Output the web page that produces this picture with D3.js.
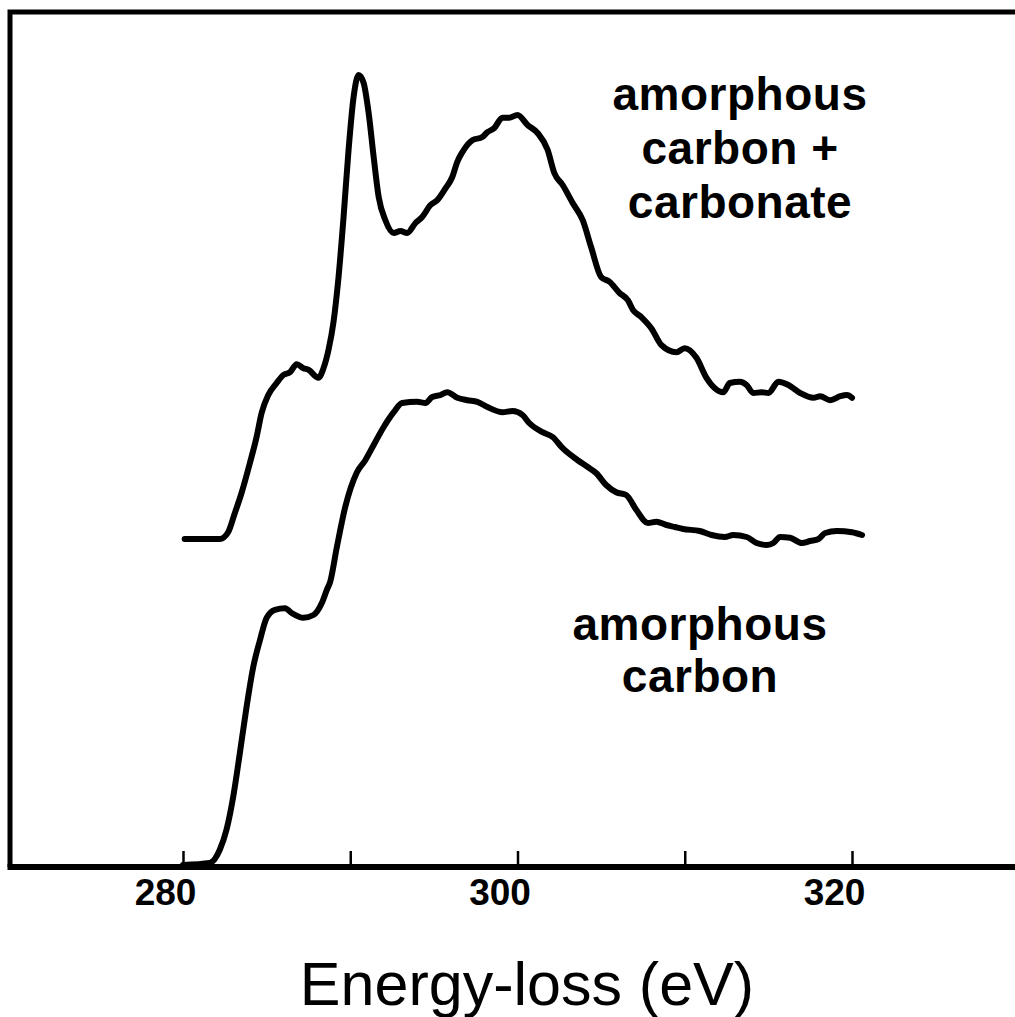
<!DOCTYPE html>
<html>
<head>
<meta charset="utf-8">
<script src="https://cdn.jsdelivr.net/npm/d3@7"></script>
<style>
  html, body { margin: 0; padding: 0; background: #fff; }
  svg { display: block; }
</style>
</head>
<body>
<div id="eels"></div>
<script>
// energy-loss (eV) and intensity (arb. units)
var carbonE = [280.0, 281.6, 282.2, 282.6, 283.0, 283.4, 283.8, 284.2, 284.6, 285.0,
  285.5, 286.1, 286.5, 287.2, 287.8, 288.3, 288.6, 288.8, 289.2, 289.7,
  290.4, 290.9, 291.4, 292.0, 292.6, 293.1, 294.0, 294.5, 294.9, 295.4,
  295.8, 296.4, 297.0, 297.6, 298.2, 299.1, 299.7, 300.3, 300.7, 301.5,
  302.1, 302.7, 303.6, 304.2, 304.7, 305.3, 305.9, 306.5, 307.1, 307.8,
  308.3, 308.9, 309.4, 309.9, 310.9, 311.6, 312.4, 312.9, 313.7, 314.3,
  314.9, 315.3, 315.7, 316.3, 317.0, 317.5, 318.0, 318.4, 319.1, 320.0, 320.6];
var carbonI = [0, 0.25, 1.9, 4.4, 8.5, 14.0, 19.75, 24.75, 28.1, 30.9,
  31.9, 32.1, 31.5, 30.9, 31.25, 32.75, 34.4, 35.4, 39.75, 44.75,
  49.1, 50.6, 52.5, 54.75, 56.6, 57.75, 57.9, 57.75, 58.5, 58.75,
  59.1, 58.4, 58.1, 57.9, 57.25, 56.6, 56.75, 56.25, 55.25, 54.1,
  53.5, 52.1, 50.6, 49.75, 49.0, 47.5, 46.6, 46.25, 44.4, 42.75,
  42.9, 42.5, 42.25, 42.0, 41.75, 41.25, 41.0, 41.25, 41.0, 40.25,
  40.0, 40.25, 41.0, 40.9, 40.25, 40.5, 40.75, 41.5, 41.75, 41.6, 41.25];

var carbonateE = [280.1, 282.2, 282.7, 283.1, 283.5, 284.0, 284.4, 284.7, 285.1, 285.6,
  286.0, 286.4, 286.8, 287.2, 287.5, 288.1, 288.4, 288.7, 289.0, 289.3,
  289.6, 289.9, 290.2, 290.5, 290.8, 291.1, 291.4, 291.7, 292.1, 292.6,
  293.0, 293.4, 293.9, 294.3, 294.8, 295.2, 295.7, 296.1, 296.4, 296.7,
  297.3, 297.9, 298.2, 298.6, 299.1, 299.5, 300.0, 300.6, 301.2, 301.8,
  302.2, 302.7, 303.3, 303.9, 304.4, 305.0, 305.5, 306.1, 306.6, 306.9,
  307.4, 308.0, 308.6, 309.5, 310.0, 310.7, 311.3, 311.8, 312.3, 312.7,
  313.3, 313.7, 314.1, 314.6, 315.0, 315.6, 316.2, 316.9, 317.7, 318.1,
  318.7, 319.3, 319.7, 320.0];
var carbonateI = [40.75, 40.75, 41.6, 44.0, 46.5, 50.25, 53.5, 56.5, 58.75, 60.25,
  61.25, 61.6, 62.6, 62.1, 61.9, 60.9, 62.1, 64.4, 67.9, 73.5,
  81.0, 89.4, 96.0, 98.75, 97.75, 94.0, 88.5, 83.5, 80.6, 79.0,
  79.25, 79.0, 80.25, 81.0, 82.5, 83.1, 84.6, 86.0, 87.9, 89.1,
  90.6, 91.0, 91.6, 92.1, 93.4, 93.4, 93.75, 92.5, 91.5, 89.4,
  86.5, 85.0, 82.75, 80.6, 77.25, 73.5, 72.9, 71.5, 70.6, 69.4,
  68.5, 67.1, 65.0, 64.1, 64.6, 63.4, 60.9, 59.6, 59.1, 60.25,
  60.4, 60.0, 59.0, 59.1, 59.0, 60.4, 60.0, 59.0, 58.4, 58.6,
  58.1, 58.6, 58.75, 58.4];

var xTicks = [280, 290, 300, 310, 320];
var xTickLabels = ["280", "", "300", "", "320"];
var upperLabel = ["amorphous", "carbon +", "carbonate"];
var lowerLabel = ["amorphous", "carbon"];
var xTitle = "Energy-loss (eV)";

// page size and frame
var width = 1015, height = 1017;
var frame = { left: 10, top: 12, right: 1015, bottom: 867 };

var svg = d3
  .select("#eels")
  .append("svg")
  .attr("width", width)
  .attr("height", height);

svg.append("rect").attr("width", width).attr("height", height).attr("fill", "#fff");

var x = d3.scaleLinear().domain([280, 320]).range([183, 852]);
var y = d3.scaleLinear().domain([0, 100]).range([frame.bottom - 2, 65]);

// frame: top and left borders
svg
  .append("path")
  .attr("d", "M" + frame.left + "," + frame.bottom + "V" + frame.top + "H" + frame.right)
  .attr("fill", "none")
  .attr("stroke", "#000")
  .attr("stroke-width", 5);

// bottom axis, ticks pointing up into the plot
var axis = svg
  .append("g")
  .attr("transform", "translate(0," + frame.bottom + ")")
  .call(
    d3.axisBottom(x)
      .tickValues(xTicks)
      .tickFormat(function (d, i) { return xTickLabels[i]; })
      .tickSizeInner(-16)
      .tickSizeOuter(0)
      .tickPadding(12)
  );
axis.select(".domain").remove();
axis.selectAll(".tick line").attr("stroke", "#000").attr("stroke-width", 2.5);
axis
  .selectAll(".tick text")
  .attr("fill", "#000")
  .attr("dx", -18)
  .style("font-family", "'Liberation Sans', Arial, Helvetica, sans-serif")
  .style("font-weight", "bold")
  .style("font-size", "37px");

svg
  .append("line")
  .attr("x1", frame.left - 2.5)
  .attr("x2", frame.right)
  .attr("y1", frame.bottom)
  .attr("y2", frame.bottom)
  .attr("stroke", "#000")
  .attr("stroke-width", 6);

// spectra
var line = d3
  .line()
  .x(function (d) { return x(d[0]); })
  .y(function (d) { return y(d[1]); })
  .curve(d3.curveMonotoneX);

var series = [d3.zip(carbonE, carbonI), d3.zip(carbonateE, carbonateI)];

svg
  .selectAll("path.spectrum")
  .data(series)
  .enter()
  .append("path")
  .attr("class", "spectrum")
  .attr("d", line)
  .attr("fill", "none")
  .attr("stroke", "#000")
  .attr("stroke-width", 6)
  .attr("stroke-linejoin", "round")
  .attr("stroke-linecap", "round");

// curve labels
function addLabel(lines, cx, firstBaseline, step) {
  svg
    .append("g")
    .selectAll("text")
    .data(lines)
    .enter()
    .append("text")
    .attr("x", cx)
    .attr("y", function (d, i) { return firstBaseline + i * step; })
    .attr("text-anchor", "middle")
    .style("font-family", "'Liberation Sans', Arial, Helvetica, sans-serif")
    .style("font-weight", "bold")
    .style("font-size", "46px")
    .style("letter-spacing", "0.5px")
    .text(function (d) { return d; });
}
addLabel(upperLabel, 740, 110, 54);
addLabel(lowerLabel, 700, 640, 52);

// axis title
svg
  .append("text")
  .attr("x", 527)
  .attr("y", 1005)
  .attr("text-anchor", "middle")
  .style("font-family", "'Liberation Sans', Arial, Helvetica, sans-serif")
  .style("font-size", "61px")
  .text(xTitle);
</script>
</body>
</html>
